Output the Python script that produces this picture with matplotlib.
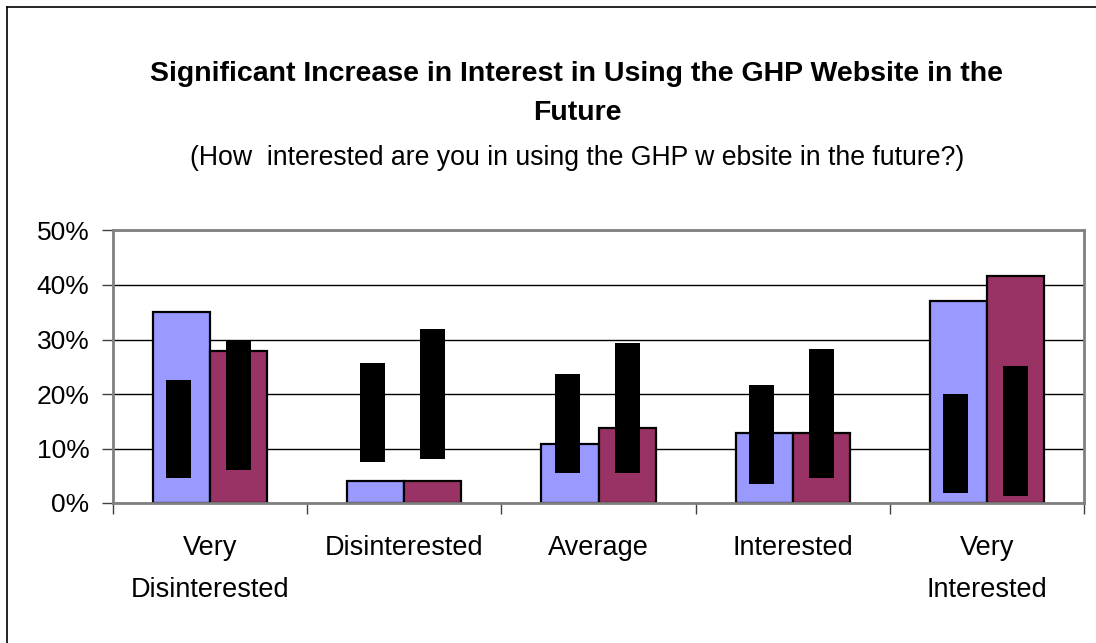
import matplotlib

matplotlib.use("Agg")
import matplotlib.pyplot as plt  # noqa: E402
import numpy as np  # noqa: E402
from matplotlib.lines import Line2D  # noqa: E402

plt.rcParams["font.family"] = ["Liberation Sans", "DejaVu Sans"]

# --- data (percent) ---
categories = ["Very\nDisinterested", "Disinterested", "Average", "Interested", "Very\nInterested"]
series_a = [35.0, 4.0, 10.8, 12.8, 37.1]
series_b = [27.8, 4.0, 13.8, 12.8, 41.7]
# black overlay blocks (bottom, top) on each bar
block_a_low = [4.5, 7.6, 5.5, 3.5, 1.9]
block_a_high = [22.6, 25.7, 23.7, 21.7, 20.0]
block_b_low = [6.1, 8.1, 5.5, 4.5, 1.3]
block_b_high = [29.9, 31.9, 29.4, 28.3, 25.1]
y_ticks = [0, 10, 20, 30, 40, 50]

BLUE = "#9999FF"
MAROON = "#993366"
W, H = 1096, 643

fig = plt.figure(figsize=(W / 100, H / 100), dpi=100)
ax = fig.add_axes([113 / W, (H - 503) / H, 971 / W, 272.5 / H])

x = np.arange(len(categories))
bw = 0.294
bk = 0.129
ax.bar(x - bw / 2, series_a, bw, color=BLUE, edgecolor="black", lw=1.6, zorder=2)
ax.bar(x + bw / 2, series_b, bw, color=MAROON, edgecolor="black", lw=1.6, zorder=2)
ax.bar(x - bw / 2 - 0.015, np.subtract(block_a_high, block_a_low), bk,
       bottom=block_a_low, color="black", lw=0, zorder=3)
ax.bar(x + bw / 2, np.subtract(block_b_high, block_b_low), bk,
       bottom=block_b_low, color="black", lw=0, zorder=3)

ax.set_xlim(-0.5, 4.5)
ax.set_ylim(0, 50)
ax.set_yticks(y_ticks)
ax.set_yticklabels([f"{v}%" for v in y_ticks], fontsize=19)
ax.yaxis.grid(True, color="black", lw=1.0, zorder=0)
ax.set_axisbelow(True)

ax.set_xticks(x)
ax.set_xticklabels(categories, fontsize=19.5, linespacing=1.8)
ax.tick_params(axis="x", which="major", length=0, pad=23)
ax.set_xticks(np.arange(-0.5, 5, 1), minor=True)
ax.tick_params(axis="x", which="minor", length=8, width=1, color="#404040", direction="out")
ax.tick_params(axis="y", length=8, width=1, color="#404040", direction="out", pad=9)

for s in ax.spines.values():
    s.set_color("#808080")
    s.set_linewidth(2)

fig.text(577 / W, 1 - 74 / H, "Significant Increase in Interest in Using the GHP Website in the",
         ha="center", va="center", fontsize=20.5, fontweight="bold")
fig.text(577 / W, 1 - 113 / H, "Future", ha="center", va="center", fontsize=20.5, fontweight="bold")
fig.text(577 / W, 1 - 158 / H, "(How  interested are you in using the GHP w ebsite in the future?)",
         ha="center", va="center", fontsize=19.2)

# outer chart frame (left and top visible)
fig.add_artist(Line2D([7 / W, 7 / W], [0, 1 - 7 / H], color="black", lw=1.2))
fig.add_artist(Line2D([7 / W, 1], [1 - 7 / H, 1 - 7 / H], color="black", lw=1.2))

fig.savefig("out.png", dpi=100)
